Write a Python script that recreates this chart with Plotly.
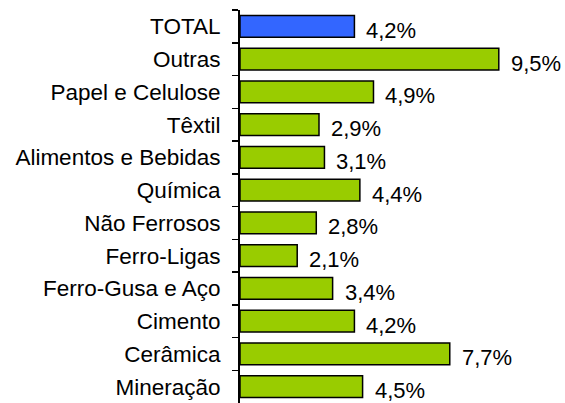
import plotly.graph_objects as go

categories = ["TOTAL", "Outras", "Papel e Celulose", "Têxtil", "Alimentos e Bebidas",
              "Química", "Não Ferrosos", "Ferro-Ligas", "Ferro-Gusa e Aço",
              "Cimento", "Cerâmica", "Mineração"]
values = [4.2, 9.5, 4.9, 2.9, 3.1, 4.4, 2.8, 2.1, 3.4, 4.2, 7.7, 4.5]
labels = ["4,2%", "9,5%", "4,9%", "2,9%", "3,1%", "4,4%", "2,8%", "2,1%",
          "3,4%", "4,2%", "7,7%", "4,5%"]

BLUE = "#3366FF"
GREEN = "#99CC00"
colors = [BLUE if c == "TOTAL" else GREEN for c in categories]
FONT = "Liberation Sans, Arial, sans-serif"

fig = go.Figure()
fig.add_trace(go.Bar(
    x=values, y=categories, orientation="h",
    marker=dict(color=colors, line=dict(color="#000000", width=1.5)),
    hoverinfo="skip",
))

for c, v, t in zip(categories, values, labels):
    fig.add_annotation(x=v, y=c, text=t, showarrow=False, xanchor="left",
                       xshift=10, yshift=-4,
                       font=dict(family=FONT, size=22, color="#000000"))

fig.update_layout(
    width=565, height=403,
    margin=dict(l=240, r=0, t=10, b=0),
    paper_bgcolor="white", plot_bgcolor="white",
    bargap=0.34, showlegend=False,
    font=dict(family=FONT, size=22.5, color="#000000"),
    xaxis=dict(range=[0, 11.93], visible=False, showgrid=False, zeroline=False),
    yaxis=dict(type="category", categoryorder="array", categoryarray=categories,
               range=[11.5, -0.5], showline=True, linecolor="#000000", linewidth=2,
               ticks="outside", tickson="boundaries", ticklen=6, tickwidth=1.5,
               tickcolor="#000000", ticklabelstandoff=13, showgrid=False,
               automargin=False, tickfont=dict(size=22.5)),
)

fig.write_html(
    "out.html",
    config={"displayModeBar": False, "staticPlot": True},
    post_script="document.body.style.margin='0';document.body.style.overflow='hidden';",
)
